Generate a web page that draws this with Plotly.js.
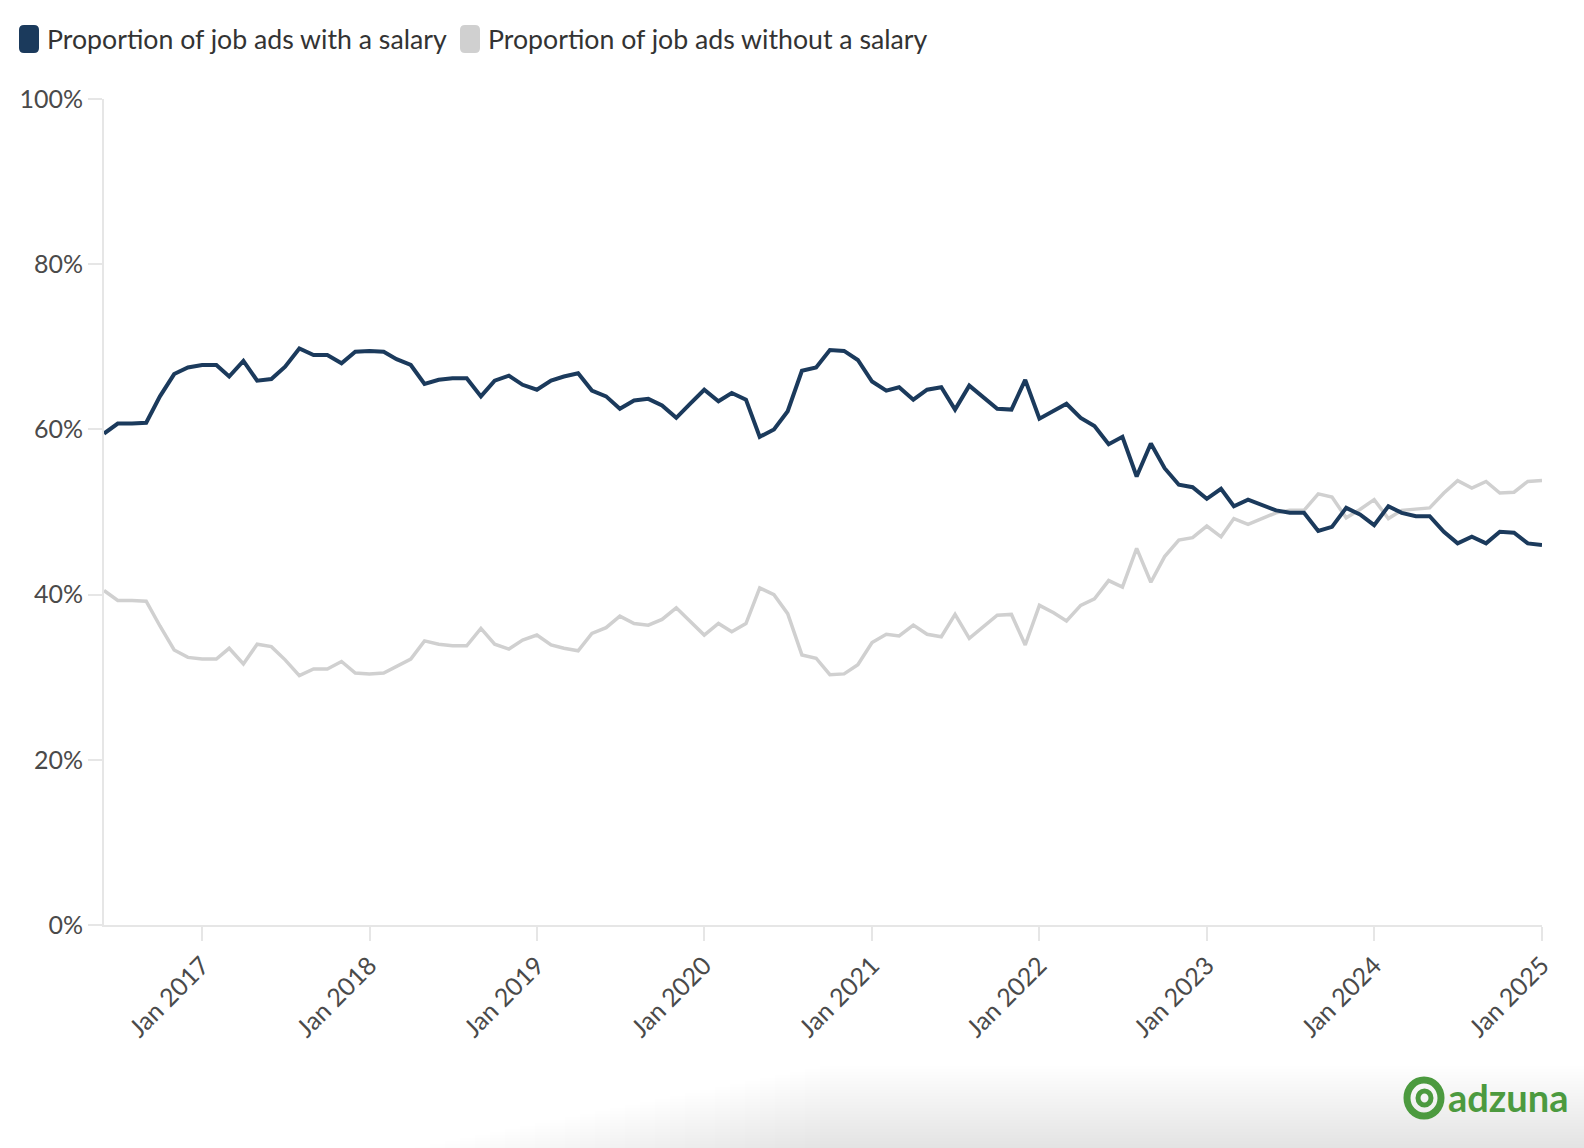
<!DOCTYPE html>
<html>
<head>
<meta charset="utf-8">
<script src="https://cdn.plot.ly/plotly-3.0.1.min.js"></script>
<style>
  html, body { margin: 0; padding: 0; background: #fff; }
  #chart { width: 1584px; height: 1148px; }
</style>
</head>
<body>
<div id="chart"></div>
<script>
// monthly points, Jun 2016 .. Jan 2025
const months = [
  '2016-06', '2016-07', '2016-08', '2016-09', '2016-10', '2016-11', '2016-12',
  '2017-01', '2017-02', '2017-03', '2017-04', '2017-05', '2017-06', '2017-07', '2017-08', '2017-09', '2017-10', '2017-11', '2017-12',
  '2018-01', '2018-02', '2018-03', '2018-04', '2018-05', '2018-06', '2018-07', '2018-08', '2018-09', '2018-10', '2018-11', '2018-12',
  '2019-01', '2019-02', '2019-03', '2019-04', '2019-05', '2019-06', '2019-07', '2019-08', '2019-09', '2019-10', '2019-11', '2019-12',
  '2020-01', '2020-02', '2020-03', '2020-04', '2020-05', '2020-06', '2020-07', '2020-08', '2020-09', '2020-10', '2020-11', '2020-12',
  '2021-01', '2021-02', '2021-03', '2021-04', '2021-05', '2021-06', '2021-07', '2021-08', '2021-09', '2021-10', '2021-11', '2021-12',
  '2022-01', '2022-02', '2022-03', '2022-04', '2022-05', '2022-06', '2022-07', '2022-08', '2022-09', '2022-10', '2022-11', '2022-12',
  '2023-01', '2023-02', '2023-03', '2023-04', '2023-05', '2023-06', '2023-07', '2023-08', '2023-09', '2023-10', '2023-11', '2023-12',
  '2024-01', '2024-02', '2024-03', '2024-04', '2024-05', '2024-06', '2024-07', '2024-08', '2024-09', '2024-10', '2024-11', '2024-12',
  '2025-01',
];

const withSalary = [
  59.5, 60.7, 60.7, 60.8, 64.0, 66.7, 67.5,
  67.8, 67.8, 66.4, 68.3, 65.9, 66.1, 67.6, 69.8, 69.0, 69.0, 68.0, 69.4,
  69.5, 69.4, 68.5, 67.8, 65.5, 66.0, 66.2, 66.2, 64.0, 65.9, 66.5, 65.4,
  64.8, 65.9, 66.4, 66.8, 64.7, 64.0, 62.5, 63.5, 63.7, 62.9, 61.4, 63.1,
  64.8, 63.4, 64.4, 63.6, 59.1, 60.0, 62.2, 67.1, 67.5, 69.6, 69.5, 68.4,
  65.8, 64.7, 65.1, 63.6, 64.8, 65.1, 62.4, 65.3, 63.9, 62.5, 62.4, 66.0,
  61.3, 62.2, 63.1, 61.4, 60.4, 58.2, 59.1, 54.3, 58.3, 55.3, 53.3, 53.0,
  51.6, 52.8, 50.7, 51.5, 50.8, 50.2, 49.9, 49.9, 47.7, 48.2, 50.5, 49.7,
  48.4, 50.7, 49.9, 49.5, 49.5, 47.6, 46.2, 47.0, 46.2, 47.6, 47.5, 46.2,
  46.0,
];

const withoutSalary = [
  40.5, 39.3, 39.3, 39.2, 36.2, 33.3, 32.4,
  32.2, 32.2, 33.5, 31.6, 34.0, 33.7, 32.1, 30.2, 31.0, 31.0, 31.9, 30.5,
  30.4, 30.5, 31.3, 32.2, 34.4, 34.0, 33.8, 33.8, 35.9, 34.0, 33.4, 34.5,
  35.1, 33.9, 33.5, 33.2, 35.3, 36.0, 37.4, 36.5, 36.3, 37.0, 38.4, 36.8,
  35.1, 36.5, 35.5, 36.5, 40.8, 40.0, 37.7, 32.7, 32.3, 30.3, 30.4, 31.5,
  34.2, 35.2, 35.0, 36.3, 35.2, 34.9, 37.6, 34.7, 36.1, 37.5, 37.6, 33.9,
  38.7, 37.8, 36.8, 38.7, 39.5, 41.7, 40.9, 45.6, 41.5, 44.6, 46.6, 46.9,
  48.3, 47.0, 49.2, 48.5, 49.2, 49.9, 50.2, 50.2, 52.2, 51.8, 49.3, 50.3,
  51.5, 49.2, 50.2, 50.4, 50.5, 52.3, 53.8, 52.9, 53.7, 52.3, 52.4, 53.7,
  53.8,
];

const seriesNames = ['Proportion of job ads with a salary', 'Proportion of job ads without a salary'];
const yTicks = [0, 20, 40, 60, 80, 100];

const NAVY = '#1b3a5c';
const GREY = '#d0d0d0';
const AXIS = '#e6e6e6';
const GREEN = '#4c9a3f';
const FONT = 'Lato, "Open Sans", sans-serif';

const W = 1584, H = 1148;
const M = { l: 104, r: 42, t: 99, b: 223 };
const PW = W - M.l - M.r;
const PH = H - M.t - M.b;
// pixel -> paper helpers for the legend and logo decorations
const px = (x) => (x - M.l) / PW;
const py = (y) => (H - M.b - y) / PH;

const roundRect = (x0, y0, x1, y1, r) => {
  const a = px(x0), b = px(x1), c = py(y0), d = py(y1);
  const rx = r / PW, ry = r / PH;
  return `M${a + rx},${c} L${b - rx},${c} Q${b},${c} ${b},${c - ry} L${b},${d + ry} Q${b},${d} ${b - rx},${d} ` +
    `L${a + rx},${d} Q${a},${d} ${a},${d + ry} L${a},${c - ry} Q${a},${c} ${a + rx},${c} Z`;
};

const toDate = (m) => m + '-01';

const traces = [
  {
    x: months.map(toDate),
    y: withoutSalary,
    name: seriesNames[1],
    type: 'scatter',
    mode: 'lines',
    line: { color: GREY, width: 3.5 },
    hoverinfo: 'x+y',
  },
  {
    x: months.map(toDate),
    y: withSalary,
    name: seriesNames[0],
    type: 'scatter',
    mode: 'lines',
    line: { color: NAVY, width: 4 },
    hoverinfo: 'x+y',
  },
];

const shapes = [];

// soft shadow band at the bottom of the screenshot, built from thin translucent layers
for (let k = 0; k < 28; k++) {
  shapes.push({
    type: 'rect', xref: 'paper', yref: 'paper', layer: 'below',
    x0: px(820 - k * 15), x1: px(W), y0: py(1066 + k * 3), y1: py(H),
    fillcolor: 'rgba(0,0,0,0.0026)', line: { width: 0 },
  });
}

shapes.push(
  { type: 'path', xref: 'paper', yref: 'paper', path: roundRect(19, 25, 39, 53, 5), fillcolor: NAVY, line: { width: 0 } },
  { type: 'path', xref: 'paper', yref: 'paper', path: roundRect(460, 25, 480, 53, 5), fillcolor: GREY, line: { width: 0 } },
  // adzuna mark
  { type: 'circle', xref: 'paper', yref: 'paper', x0: px(1407), x1: px(1441), y0: py(1080), y1: py(1116), line: { color: GREEN, width: 7 } },
  { type: 'circle', xref: 'paper', yref: 'paper', x0: px(1418), x1: px(1431), y0: py(1091), y1: py(1105), line: { color: GREEN, width: 5 } },
);

const annotations = [
  { xref: 'paper', yref: 'paper', x: px(45), y: py(39), xanchor: 'left', yanchor: 'middle', showarrow: false,
    text: seriesNames[0], font: { family: FONT, size: 26.7, color: '#333333' } },
  { xref: 'paper', yref: 'paper', x: px(486), y: py(39), xanchor: 'left', yanchor: 'middle', showarrow: false,
    text: seriesNames[1], font: { family: FONT, size: 26.7, color: '#333333' } },
  { xref: 'paper', yref: 'paper', x: px(1446), y: py(1097), xanchor: 'left', yanchor: 'middle', showarrow: false,
    text: '<b>adzuna</b>', font: { family: FONT, size: 38, color: GREEN } },
];

const layout = {
  width: W,
  height: H,
  margin: M,
  paper_bgcolor: '#ffffff',
  plot_bgcolor: '#ffffff',
  showlegend: false,
  hovermode: 'closest',
  font: { family: FONT, color: '#4a4a4a' },
  xaxis: {
    type: 'date',
    range: ['2016-06-01', '2025-01-01'],
    tick0: '2017-01-01',
    dtick: 'M12',
    tickformat: '%b %Y',
    tickangle: -45,
    ticks: 'outside',
    ticklen: 14,
    tickwidth: 2,
    tickcolor: AXIS,
    showline: true,
    linecolor: AXIS,
    linewidth: 2,
    showgrid: false,
    zeroline: false,
    tickfont: { family: FONT, size: 25, color: '#4a4a4a' },
  },
  yaxis: {
    range: [0, 100],
    tickmode: 'array',
    tickvals: yTicks,
    ticktext: yTicks.map((v) => v + '%'),
    ticks: 'outside',
    ticklen: 14,
    tickwidth: 2,
    tickcolor: AXIS,
    showline: true,
    linecolor: AXIS,
    linewidth: 2,
    showgrid: false,
    zeroline: false,
    tickfont: { family: FONT, size: 25, color: '#4a4a4a' },
  },
  shapes,
  annotations,
};

Plotly.newPlot('chart', traces, layout, { displayModeBar: false, staticPlot: true });
</script>
</body>
</html>
